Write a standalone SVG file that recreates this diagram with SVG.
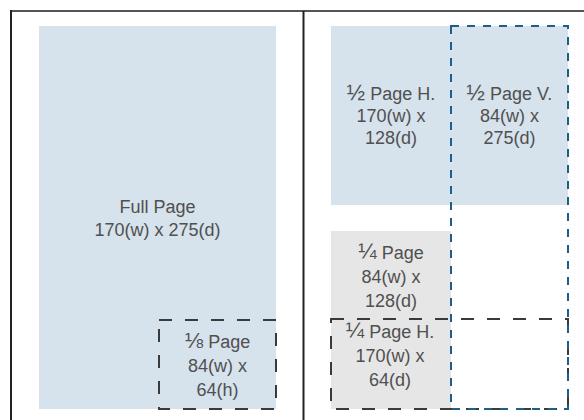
<svg xmlns="http://www.w3.org/2000/svg" width="584" height="420" viewBox="0 0 584 420">
<style>
text{font-family:"Liberation Sans",Arial,sans-serif;font-size:18px;fill:#505050;text-anchor:middle}
.fr{font-size:22px}
.blue{fill:#d6e2ec}
.gray{fill:#e6e6e6}
.dk{fill:none;stroke:#3a3a3a;stroke-width:2;stroke-dasharray:13 13}
.bl{fill:none;stroke:#1f5f86;stroke-width:2;stroke-dasharray:8 8}
</style>
<rect width="584" height="420" fill="#fff"/>
<g id="frame">
<line x1="10" y1="11" x2="584" y2="11" stroke="#555" stroke-width="2"/>
<line x1="11" y1="10" x2="11" y2="420" stroke="#222" stroke-width="2"/>
<line x1="303.5" y1="11" x2="303.5" y2="420" stroke="#222" stroke-width="2"/>
</g>
<g id="full-page">
<rect class="blue" x="39" y="26" width="237" height="383"/>
<text x="157.5" y="213">Full Page</text>
<text x="157.5" y="236">170(w) x 275(d)</text>
</g>
<g id="eighth-page">
<rect class="dk" x="159" y="320" width="117" height="89"/>
<text x="217.5" y="348"><tspan class="fr">⅛</tspan> Page</text>
<text x="217.5" y="372">84(w) x</text>
<text x="217.5" y="396">64(h)</text>
</g>
<g id="half-page-h">
<rect class="blue" x="331" y="26" width="120" height="179"/>
<text x="391" y="100"><tspan class="fr">½</tspan> Page H.</text>
<text x="391" y="122">170(w) x</text>
<text x="391" y="144">128(d)</text>
</g>
<g id="half-page-v">
<rect class="blue" x="451" y="26" width="117" height="179"/>
<text x="509.5" y="100"><tspan class="fr">½</tspan> Page V.</text>
<text x="509.5" y="122">84(w) x</text>
<text x="509.5" y="144">275(d)</text>
</g>
<g id="quarter-page">
<rect class="gray" x="331" y="231" width="120" height="88"/>
<text x="391" y="259"><tspan class="fr">¼</tspan> Page</text>
<text x="391" y="283">84(w) x</text>
<text x="391" y="307">128(d)</text>
</g>
<g id="quarter-page-h">
<rect class="gray" x="331" y="319" width="120" height="90"/>
<rect class="dk" x="331" y="319" width="237" height="90"/>
<text x="390" y="338"><tspan class="fr">¼</tspan> Page H.</text>
<text x="390" y="362">170(w) x</text>
<text x="390" y="386">64(d)</text>
</g>
<g id="half-page-v-outline">
<rect class="bl" x="451" y="26" width="117" height="383"/>
</g>
</svg>
